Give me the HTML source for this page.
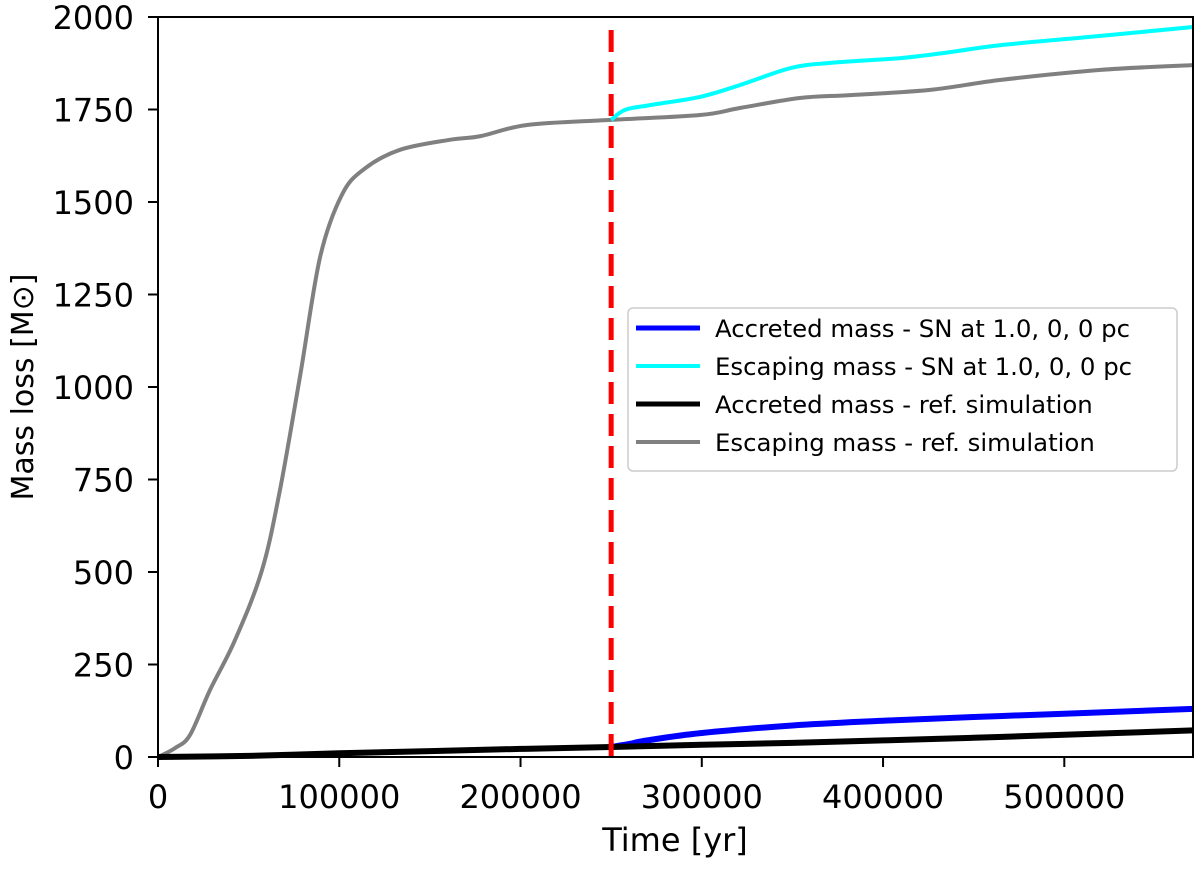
<!DOCTYPE html>
<html><head><meta charset="utf-8"><style>
body{margin:0;background:#fff;}
svg text{font-family:"DejaVu Sans","Liberation Sans",sans-serif;fill:#000;}
</style></head><body>
<svg id="chart" width="1200" height="864" xmlns="http://www.w3.org/2000/svg">
<g id="plot"></g>
</svg>
<script>
const xTicks=[0,100000,200000,300000,400000,500000];
const yTicks=[0,250,500,750,1000,1250,1500,1750,2000];
const grayT=[0,9400,17700,28700,42500,57400,67300,78400,89400,101500,114000,133500,161000,178000,203600,250000,299000,321000,354000,382000,426000,465000,520000,571000];
const grayV=[0,24,60,181,316,505,722,1030,1350,1520,1590,1641,1668,1678,1708,1722,1735,1754,1781,1789,1803,1830,1857,1870];
const cyanT=[250000,257700,271500,299000,321000,349000,371000,409500,437000,465000,520000,571000];
const cyanV=[1722,1749,1762,1784,1816,1862,1876,1889,1905,1924,1949,1973];
const blackT=[0,50000,100000,150000,200000,250000,300000,350000,400000,450000,500000,571000];
const blackV=[0,3,10,16,22,27,33,38,45,52,60,72];
const blueT=[250000,260000,270000,300000,350000,400000,450000,500000,571000];
const blueV=[27,35,45,65,85,98,108,117,130];
const snTime=250000;
const legendLabels=["Accreted mass - SN at 1.0, 0, 0 pc","Escaping mass - SN at 1.0, 0, 0 pc","Accreted mass - ref. simulation","Escaping mass - ref. simulation"];

const L=158,R=1193,T=17,B=757,XMAX=571000,YMAX=2000;
const sx=t=>L+t/XMAX*(R-L);
const sy=v=>B-v/YMAX*(B-T);
const NS="http://www.w3.org/2000/svg";
const g=document.getElementById('plot');
function mk(tag,attrs,parent){const e=document.createElementNS(NS,tag);for(const k in attrs)e.setAttribute(k,attrs[k]);(parent||g).appendChild(e);return e;}
function smoothPath(ts,vs){
  const P=ts.map((t,i)=>[sx(t),sy(vs[i])]);
  let d='M'+P[0][0].toFixed(1)+','+P[0][1].toFixed(1);
  for(let i=0;i<P.length-1;i++){
    const p0=P[Math.max(0,i-1)],p1=P[i],p2=P[i+1],p3=P[Math.min(P.length-1,i+2)];
    const c1=[p1[0]+(p2[0]-p0[0])/6,p1[1]+(p2[1]-p0[1])/6];
    const c2=[p2[0]-(p3[0]-p1[0])/6,p2[1]-(p3[1]-p1[1])/6];
    d+=' C'+c1.map(v=>v.toFixed(1)).join(',')+' '+c2.map(v=>v.toFixed(1)).join(',')+' '+p2[0].toFixed(1)+','+p2[1].toFixed(1);
  }
  return d;
}
function line(ts,vs,color,w,name){
  const p=mk('path',{d:smoothPath(ts,vs),fill:'none',stroke:color,'stroke-width':w,'stroke-linejoin':'round'});
  
  
}
line(grayT,grayV,'#808080',4,'escaping-ref-line');
line(cyanT,cyanV,'#00ffff',4,'escaping-sn-line');
line(blueT,blueV,'#0000ff',6,'accreted-sn-line');
line(blackT,blackV,'#000',6,'accreted-ref-line');
const sn=mk('line',{x1:sx(snTime),x2:sx(snTime),y1:30,y2:B,stroke:'#ff0000','stroke-width':5,'stroke-dasharray':'22,10'});


const frame=mk('rect',{x:L,y:T,width:R-L,height:B-T,fill:'none',stroke:'#000','stroke-width':2});


xTicks.forEach(t=>{
  const tk=mk('line',{x1:sx(t),x2:sx(t),y1:B,y2:B+10,stroke:'#000','stroke-width':2});
  
  
  const tx=mk('text',{x:sx(t),y:B+51,'text-anchor':'middle','font-size':32});tx.textContent=t;
  
  
});
yTicks.forEach(v=>{
  const tk=mk('line',{x1:L-10,x2:L,y1:sy(v),y2:sy(v),stroke:'#000','stroke-width':2});
  
  
  const tx=mk('text',{x:L-24,y:sy(v)+12,'text-anchor':'end','font-size':32});tx.textContent=v;
  
  
});
const xt=mk('text',{x:675,y:851,'text-anchor':'middle','font-size':32});xt.textContent='Time [yr]';


const yt=mk('text',{x:0,y:0,'text-anchor':'middle','font-size':30,transform:'translate(33,387) rotate(-90)'});yt.textContent='Mass loss [M\u2299]';


const lg=mk('g',{});


mk('rect',{x:628,y:308,width:549,height:163,rx:5,fill:'#fff',stroke:'#ccc','stroke-width':1.5},lg);
const cols=['#0000ff','#00ffff','#000','#808080'],ws=[5,4,5,4];
legendLabels.forEach((s,i)=>{
  const y=328+i*38;
  const ln=mk('line',{x1:636,x2:700,y1:y,y2:y,stroke:cols[i],'stroke-width':ws[i]},lg);
  
  
  const tx=mk('text',{x:715,y:y+9,'font-size':24.4},lg);tx.textContent=s;
  
  
});
</script>
</body></html>
